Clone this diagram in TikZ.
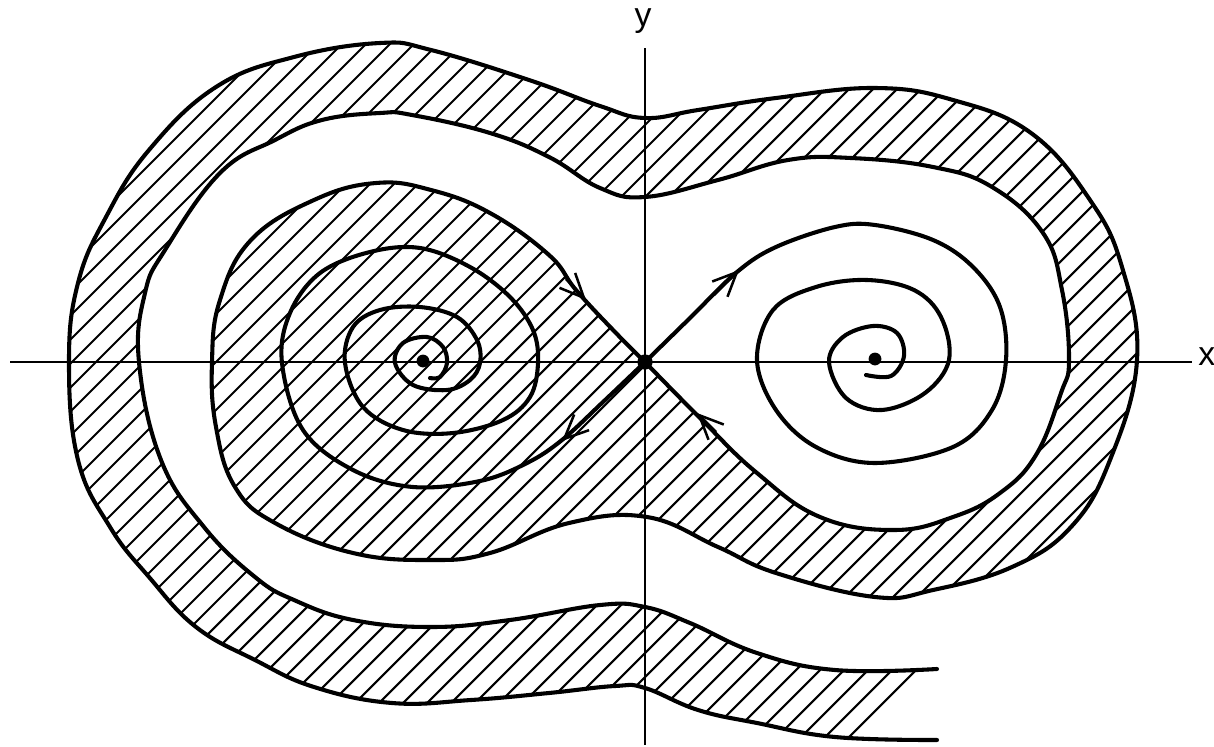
\documentclass[tikz,border=0pt]{standalone}
\usepackage{fontspec}
\newfontfamily\labfont{Liberation Sans}
\usetikzlibrary{arrows.meta}
\begin{document}
\begin{tikzpicture}[x=0.25mm,y=-0.25mm,
  curve/.style={line width=2.9pt, line cap=round, line join=round},
  axisline/.style={line width=1.6pt},
  hatchline/.style={line width=1.5pt},
  barb/.style={line width=1.8pt, -{Straight Barb[length=6mm,width=5.4mm,line width=1.8pt]}},
  dot/.style={circle, fill=black, inner sep=0pt, minimum size=#1},
  lab/.style={font=\labfont\fontsize{24}{24}\selectfont, inner sep=0pt}
  ]
\useasboundingbox (0,0) rectangle (1214,747);

\newcommand\SonePath{plot[smooth,tension=0.7] coordinates {(645,362) (615,332) (576,290) (549,255) (490,213) (431,190) (376,183) (314,200) (251,240) (220,300) (212,362) (216,427) (235,487) (275,523) (353,553) (431,560) (490,553) (569,523) (647,517) (718,547) (776,573) (875,597) (933,590) (1012,567) (1071,527) (1110,460) (1137,360) (1122,267) (1090,200) (1031,133) (953,100) (875,88) (776,98) (698,110) (645,118) (600,106) (529,80) (431,50) (380,43) (294,57) (216,87) (149,150) (106,217) (78,283) (69,362) (78,460) (110,527) (149,577) (196,627) (255,660) (314,687) (392,703) (471,700) (549,693) (615,686) (645,688) (698,710) (757,723) (835,737) (937,740)}}
\newcommand\StwoPath{plot[smooth,tension=0.7] coordinates {(645,362) (702,420) (757,473) (820,517) (894,530) (953,517) (1000,493) (1036,455) (1061,393) (1069,360) (1062,290) (1043,233) (992,187) (933,167) (851,158) (788,160) (718,180) (645,197) (600,188) (549,157) (490,133) (412,115) (380,113) (322,120) (275,140) (220,173) (165,250) (145,293) (139,362) (161,460) (204,527) (255,577) (294,600) (353,620) (431,627) (510,620) (600,605) (645,607) (690,623) (757,653) (835,670) (937,669)}}
\newcommand\StwoRevPath{-- plot[smooth,tension=0.7] coordinates {(937,669) (835,670) (757,653) (690,623) (645,607) (600,605) (510,620) (431,627) (353,620) (294,600) (255,577) (204,527) (161,460) (139,362) (145,293) (165,250) (220,173) (275,140) (322,120) (380,113) (412,115) (490,133) (549,157) (600,188) (645,197) (718,180) (788,160) (851,158) (933,167) (992,187) (1043,233) (1062,290) (1069,360) (1061,393) (1036,455) (1000,493) (953,517) (894,530) (820,517) (757,473) (702,420) (645,362)} -- cycle}

% hatching of the basin of the left focus
\begin{scope}
  \clip (0,0) -- (1600,0) -- (0,1600) -- cycle;
  \clip \SonePath \StwoRevPath;
  \foreach \i in {300,324,...,1650} \draw[hatchline] (\i,-10) -- (\i-760,750);
\end{scope}

% axes
\coordinate (xl) at (10,362);
\coordinate (xr) at (1192,362);
\coordinate (yt) at (645,48);
\coordinate (yb) at (645,745);
\draw[axisline] (xl) -- (xr);
\draw[axisline] (yt) -- (yb);
\node[lab] (ylab) at (643,21) {y};
\node[lab, anchor=west] (xlab) at (1198,357) {x};

% stable manifold branches
\draw[curve] \SonePath;
\draw[curve] \StwoPath;

% unstable manifold branches
\draw[curve] plot[smooth,tension=0.6] coordinates {(645,362) (603,402) (562,440) (527,463) (480,481) (413,487) (353,470) (303,430) (282,363) (290,313) (320,273) (370,252) (420,248) (470,267) (510,297) (533,330) (538,363) (530,397) (503,420) (453,433) (403,430) (363,407) (345,363) (353,327) (380,310) (420,307) (457,317) (477,340) (480,363) (470,380) (447,390) (413,385) (395,363) (403,343) (427,337) (443,347) (447,363) (440,377) (430,378)};
\draw[curve] plot[smooth,tension=0.6] coordinates {(645,362) (690,318) (737,272) (776,247) (835,227) (875,225) (933,240) (973,267) (1000,307) (1006,360) (992,410) (953,447) (875,463) (816,447) (776,410) (757,360) (773,310) (816,287) (867,280) (914,290) (941,317) (949,360) (925,393) (882,410) (846,398) (829,362) (843,337) (873,326) (897,333) (904,356) (891,376) (866,375)};

% arrowheads
\coordinate (a1s) at (566,279); \coordinate (a1e) at (586,300);
\coordinate (a2s) at (714,295); \coordinate (a2e) at (739,270);
\coordinate (a3s) at (716,432); \coordinate (a3e) at (697,413);
\coordinate (a4s) at (583,421); \coordinate (a4e) at (562,441);
\draw[barb] (a1s) -- (a1e);
\draw[barb] (a2s) -- (a2e);
\draw[barb] (a3s) -- (a3e);
\draw[barb] (a4s) -- (a4e);

% equilibria
\node[dot=3.8mm] (saddle) at (645,362) {};
\node[dot=3.2mm] (fl) at (423,361) {};
\node[dot=3.2mm] (fr) at (875,359) {};
\end{tikzpicture}
\end{document}
